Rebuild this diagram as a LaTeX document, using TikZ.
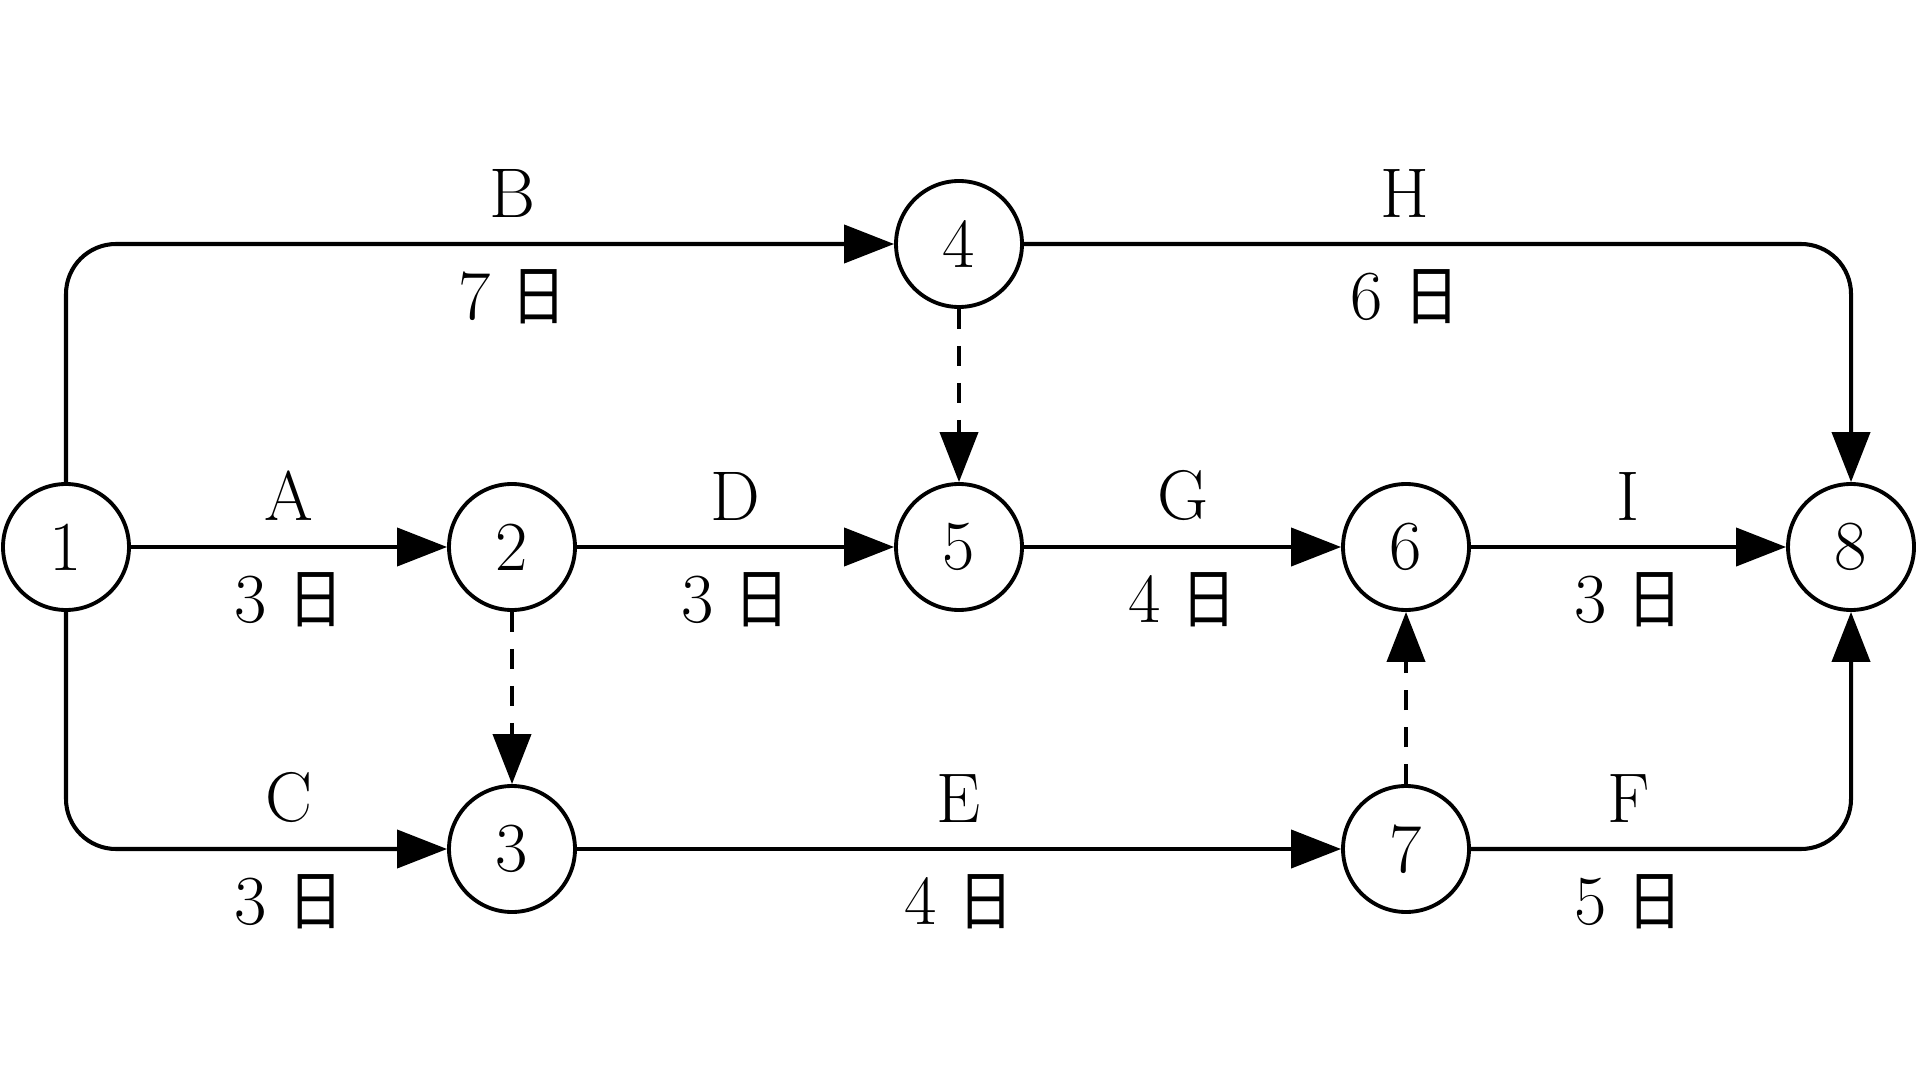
\documentclass[tikz,border=0pt]{standalone}
\usepackage{fontspec}
\usepackage{graphicx}
\newfontfamily\cjkfont{Noto Sans CJK SC}
\usetikzlibrary{arrows.meta,calc}
\newcommand\riday{\scalebox{0.78}[0.92]{\cjkfont 日}}
\tikzset{
  ev/.style={circle, draw, line width=1.1pt, minimum size=1.26cm, inner sep=0pt, font=\fontsize{20}{24}\selectfont},
  arr/.style={line width=1.15pt, -{Triangle[length=0.5cm,width=0.38cm]}},
  dum/.style={arr, dash pattern=on 0.2cm off 0.17cm},
  labup/.style={anchor=south, inner sep=0pt, yshift=0.26cm, font=\fontsize{20}{24}\selectfont},
  labdn/.style={anchor=north, inner sep=0pt, yshift=-0.25cm, font=\fontsize{20}{24}\selectfont}
}
\begin{document}
\begin{tikzpicture}
\useasboundingbox (0,0) rectangle (19.2,-10.8);
\node[ev] (n1) at (0.66,-5.47) {1};
\node[ev] (n2) at (5.12,-5.47) {2};
\node[ev] (n5) at (9.59,-5.47) {5};
\node[ev] (n6) at (14.06,-5.47) {6};
\node[ev] (n8) at (18.51,-5.47) {8};
\node[ev] (n4) at (9.59,-2.44) {4};
\node[ev] (n3) at (5.12,-8.49) {3};
\node[ev] (n7) at (14.06,-8.49) {7};
% solid activities
\draw[arr, rounded corners=0.5cm] (n1.north) |- (n4.west);
\draw[arr] (n1) -- (n2);
\draw[arr, rounded corners=0.5cm] (n1.south) |- (n3.west);
\draw[arr] (n2) -- (n5);
\draw[arr] (n5) -- (n6);
\draw[arr] (n6) -- (n8);
\draw[arr] (n3) -- (n7);
\draw[arr, rounded corners=0.5cm] (n4.east) -| (n8.north);
\draw[arr, rounded corners=0.5cm] (n7.east) -| (n8.south);
% dummy activities
\draw[dum] (n4) -- (n5);
\draw[dum] (n2) -- (n3);
\draw[dum] (n7) -- (n6);
% labels
\path ($(n1|-n4)!0.5!(n4)$) node[labup] (lB) {B} node[labdn] (dB) {7 \riday};
\path ($(n1)!0.5!(n2)$) node[labup] (lA) {A} node[labdn] (dA) {3 \riday};
\path ($(n1|-n3)!0.5!(n3)$) node[labup] (lC) {C} node[labdn] (dC) {3 \riday};
\path ($(n2)!0.5!(n5)$) node[labup] (lD) {D} node[labdn] (dD) {3 \riday};
\path ($(n5)!0.5!(n6)$) node[labup] (lG) {G} node[labdn] (dG) {4 \riday};
\path ($(n6)!0.5!(n8)$) node[labup] (lI) {I} node[labdn] (dI) {3 \riday};
\path ($(n3)!0.5!(n7)$) node[labup] (lE) {E} node[labdn] (dE) {4 \riday};
\path ($(n4)!0.5!(n8|-n4)$) node[labup] (lH) {H} node[labdn] (dH) {6 \riday};
\path ($(n7)!0.5!(n8|-n7)$) node[labup] (lF) {F} node[labdn] (dF) {5 \riday};
\end{tikzpicture}
\end{document}
